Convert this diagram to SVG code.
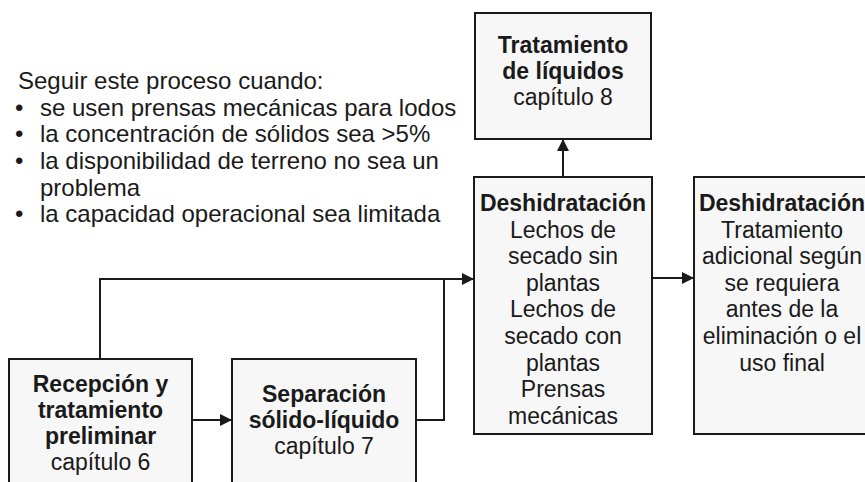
<svg xmlns="http://www.w3.org/2000/svg" width="865" height="482" viewBox="0 0 865 482">
<defs>
<style>
.box{fill:#f7f7f7;stroke:#1a1a1a;stroke-width:2}
.t{font-family:"Liberation Sans",Arial,sans-serif;font-size:23px;fill:#1a1a1a;text-anchor:middle}
.b{font-weight:bold}
.lst{font-family:"Liberation Sans",Arial,sans-serif;font-size:24px;fill:#1a1a1a}
.c{fill:none;stroke:#1a1a1a;stroke-width:2}
</style>
<marker id="ah" markerWidth="12" markerHeight="12" refX="12" refY="6" orient="auto" markerUnits="userSpaceOnUse">
<path d="M0,0 L12,6 L0,12 Z" fill="#1a1a1a"/>
</marker>
</defs>
<rect width="865" height="482" fill="#ffffff"/>
<g id="notes">
<text class="lst" x="18" y="89">Seguir este proceso cuando:</text>
<text class="lst" x="15" y="115.7">•</text><text class="lst" x="40" y="115.7">se usen prensas mecánicas para lodos</text>
<text class="lst" x="15" y="142.3">•</text><text class="lst" x="40" y="142.3">la concentración de sólidos sea &gt;5%</text>
<text class="lst" x="15" y="169">•</text><text class="lst" x="40" y="169">la disponibilidad de terreno no sea un</text>
<text class="lst" x="40" y="195.7">problema</text>
<text class="lst" x="15" y="222.3">•</text><text class="lst" x="40" y="222.3">la capacidad operacional sea limitada</text>
</g>
<g id="connectors">
<line class="c" x1="192" y1="420" x2="232" y2="420" marker-end="url(#ah)"/>
<polyline class="c" points="100,359 100,279 474,279" marker-end="url(#ah)"/>
<polyline class="c" points="416,420 444,420 444,279"/>
<line class="c" x1="652" y1="278" x2="694" y2="278" marker-end="url(#ah)"/>
<line class="c" x1="563" y1="177" x2="563" y2="139" marker-end="url(#ah)"/>
</g>
<g id="recepcion">
<rect class="box" x="9" y="359" width="183" height="140"/>
<text class="t b" x="100.5" y="392">Recepción y</text>
<text class="t b" x="100.5" y="418">tratamiento</text>
<text class="t b" x="100.5" y="444">preliminar</text>
<text class="t" x="100.5" y="470">capítulo 6</text>
</g>
<g id="separacion">
<rect class="box" x="232" y="359" width="184" height="140"/>
<text class="t b" x="324" y="402">Separación</text>
<text class="t b" x="324" y="428">sólido-líquido</text>
<text class="t" x="324" y="454">capítulo 7</text>
</g>
<g id="deshidratacion">
<rect class="box" x="474" y="177" width="178" height="257"/>
<text class="t b" x="563" y="211">Deshidratación</text>
<text class="t" x="563" y="237.6">Lechos de</text>
<text class="t" x="563" y="264.2">secado sin</text>
<text class="t" x="563" y="290.8">plantas</text>
<text class="t" x="563" y="317.4">Lechos de</text>
<text class="t" x="563" y="344">secado con</text>
<text class="t" x="563" y="370.6">plantas</text>
<text class="t" x="563" y="397.2">Prensas</text>
<text class="t" x="563" y="423.8">mecánicas</text>
</g>
<g id="deshidratacion2">
<rect class="box" x="694" y="177" width="178" height="257"/>
<text class="t b" x="782" y="211">Deshidratación</text>
<text class="t" x="782" y="237.6">Tratamiento</text>
<text class="t" x="782" y="264.2">adicional según</text>
<text class="t" x="782" y="290.8">se requiera</text>
<text class="t" x="782" y="317.4">antes de la</text>
<text class="t" x="782" y="344">eliminación o el</text>
<text class="t" x="782" y="370.6">uso final</text>
</g>
<g id="liquidos">
<rect class="box" x="475" y="13" width="176" height="126"/>
<text class="t b" x="563" y="53">Tratamiento</text>
<text class="t b" x="563" y="79">de líquidos</text>
<text class="t" x="563" y="105">capítulo 8</text>
</g>
</svg>
